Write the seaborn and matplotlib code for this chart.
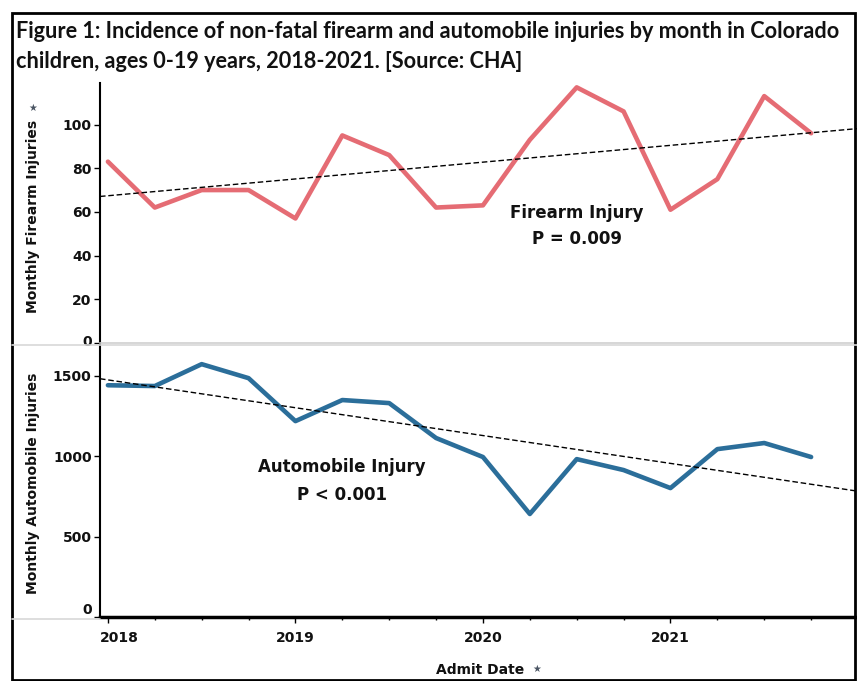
import numpy as np
import pandas as pd
import matplotlib
matplotlib.use("Agg")
import matplotlib.pyplot as plt
import matplotlib.transforms as mtransforms
from matplotlib.patches import Rectangle
from matplotlib.lines import Line2D
import seaborn as sns

# ---- data (quarterly) ----
years = [2018] * 4 + [2019] * 4 + [2020] * 4 + [2021] * 4
quarters = [1, 2, 3, 4] * 4
firearm = [83, 62, 70, 70, 57, 95, 86, 62, 63, 93, 117, 106, 61, 75, 113, 96]
automobile = [1440, 1435, 1571, 1484, 1217, 1348, 1329, 1112,
              994, 640, 981, 913, 801, 1043, 1081, 994]
year_ticks = [2018, 2019, 2020, 2021]
firearm_ticks = [0, 20, 40, 60, 80, 100]
auto_ticks = [0, 500, 1000, 1500]

df = pd.DataFrame({"year": years, "quarter": quarters,
                   "Firearm": firearm, "Automobile": automobile})
df["admit"] = df["year"] + (df["quarter"] - 1) / 4

sns.set_theme(style="white")
plt.rcParams["font.family"] = ["DejaVu Sans"]

W, H = 857, 681
fig = plt.figure(figsize=(W / 100, H / 100), dpi=100)


def box(l, t, r, b):
    return [l / W, 1 - b / H, (r - l) / W, (b - t) / H]


ax1 = fig.add_axes(box(100, 83, 857, 343))
ax2 = fig.add_axes(box(100, 345, 857, 617))
xlim = (2018 - 8 / 189.5, 2018 + 757 / 189.5)

RED = "#e56c74"
BLUE = "#2b6e9a"

for ax, col, color, lim, ticks in [(ax1, "Firearm", RED, (0, 119), firearm_ticks),
                                    (ax2, "Automobile", BLUE, (0, 1690), auto_ticks)]:
    ax.set_xlim(xlim)
    sns.lineplot(data=df, x="admit", y=col, color=color, lw=3.3, ax=ax, zorder=2)
    ax.set_xlim(xlim)
    sns.regplot(data=df, x="admit", y=col, scatter=False, ci=None, truncate=False,
                line_kws=dict(color="black", lw=1.0, ls=(0, (4, 2)), zorder=3), ax=ax)
    ax.set_xlim(xlim)
    ax.set_ylim(lim)
    ax.set_yticks(ticks)
    ax.set_xlabel("")
    ax.set_ylabel("")
    for s in ["top", "right"]:
        ax.spines[s].set_visible(False)
    ax.spines["left"].set_color("black")
    ax.spines["left"].set_linewidth(1.5)
    ax.tick_params(axis="y", left=True, direction="out", length=4, width=1,
                   color="black", labelsize=10, pad=2, labelcolor="#111111")
    for lab in ax.get_yticklabels():
        lab.set_fontweight("bold")
    ax.patch.set_alpha(0)

ax1.spines["bottom"].set_color("#d0d0d0")
ax1.spines["bottom"].set_linewidth(1.2)
ax1.set_xticks([])
zero1 = ax1.get_yticklabels()[0]
zero1.set_transform(zero1.get_transform() +
                    mtransforms.ScaledTranslation(0, 3 / 100, fig.dpi_scale_trans))

ax2.spines["bottom"].set_color("black")
ax2.spines["bottom"].set_linewidth(2.5)
ax2.set_xticks(year_ticks)
ax2.set_xticklabels([str(y) for y in year_ticks])
ax2.set_xticks(sorted(set(df["admit"]) - set(year_ticks)), minor=True)
ax2.tick_params(axis="x", which="major", bottom=True, direction="out", length=4,
                width=1, color="black", labelsize=10, pad=6, labelcolor="#111111")
ax2.tick_params(axis="x", which="minor", bottom=True, direction="out", length=2,
                width=1, color="black")
for lab in ax2.get_xticklabels():
    lab.set_fontweight("bold")
first_x = ax2.get_xticklabels()[0]
first_x.set_transform(first_x.get_transform() +
                      mtransforms.ScaledTranslation(11 / 100, 0, fig.dpi_scale_trans))
# Tableau-style nudge of the bottom "0" label
zero_lab = ax2.get_yticklabels()[0]
zero_lab.set_transform(zero_lab.get_transform() +
                       mtransforms.ScaledTranslation(0, 9 / 100, fig.dpi_scale_trans))

# annotations
ax1.text(0.63, 0.50, "Firearm Injury", transform=ax1.transAxes, ha="center",
         va="center", fontsize=12, fontweight="bold", color="#111111")
ax1.text(0.63, 0.40, "P = 0.009", transform=ax1.transAxes, ha="center",
         va="center", fontsize=12, fontweight="bold", color="#111111")
ax2.text(0.32, 0.55, "Automobile Injury", transform=ax2.transAxes, ha="center",
         va="center", fontsize=12, fontweight="bold", color="#111111")
ax2.text(0.32, 0.45, "P < 0.001", transform=ax2.transAxes, ha="center",
         va="center", fontsize=12, fontweight="bold", color="#111111")

# axis titles
fig.text(33 / W, 1 - 216 / H, "Monthly Firearm Injuries", rotation=90, ha="center",
         va="center", fontsize=10, fontweight="bold", color="#111111")
fig.text(33 / W, 1 - 108 / H, "★", rotation=0, ha="center", va="center",
         fontsize=7, color="#4a5563")
fig.text(33 / W, 1 - 483 / H, "Monthly Automobile Injuries", rotation=90, ha="center",
         va="center", fontsize=10, fontweight="bold", color="#111111")
fig.text(480 / W, 1 - 670 / H, "Admit Date", ha="center", va="center",
         fontsize=10, fontweight="bold", color="#111111")
fig.text(537 / W, 1 - 669 / H, "★", ha="center", va="center",
         fontsize=7, color="#4a5563")

# title
fig.text(16 / W, 1 - 31 / H,
         "Figure 1: Incidence of non-fatal firearm and automobile injuries by month in Colorado",
         ha="left", va="center", fontsize=15.6, fontweight="bold", family="Lato",
         color="#111111")
fig.text(16 / W, 1 - 61 / H,
         "children, ages 0-19 years, 2018-2021. [Source: CHA]",
         ha="left", va="center", fontsize=15.6, fontweight="bold", family="Lato",
         color="#111111")

# pane separators and border
fig.add_artist(Line2D([12 / W, 1], [1 - 345 / H, 1 - 345 / H], transform=fig.transFigure,
                      color="#d8d8d8", lw=1.2))
fig.add_artist(Line2D([12 / W, 100 / W], [1 - 619 / H, 1 - 619 / H], transform=fig.transFigure,
                      color="#d8d8d8", lw=1.2))
fig.add_artist(Rectangle((12 / W, 1 - 680 / H), (855 - 12) / W, (680 - 13) / H,
                         transform=fig.transFigure, fill=False, lw=2, ec="black"))

fig.savefig("out.png", dpi=100)
